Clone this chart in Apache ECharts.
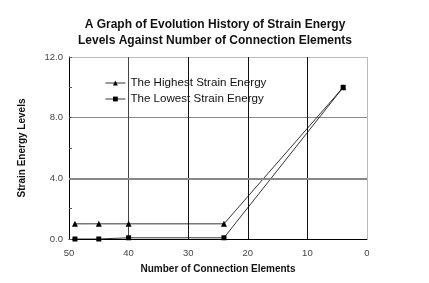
<!DOCTYPE html>
<html>
<head>
<meta charset="utf-8">
<script src="https://cdn.jsdelivr.net/npm/echarts@6/dist/echarts.min.js"></script>
<style>
    * { margin: 0; padding: 0; }
    body { background: #fff; }
</style>
</head>
<body>
<div id="chart" style="width: 429px; height: 283px;"></div>
<script>
    // data
    var elements = [49, 45, 40, 24, 4];
    var highest = [1.0, 1.0, 1.0, 1.0, 10.0];
    var lowest = [0.0, 0.0, 0.08, 0.08, 10.0];
    var seriesNames = ['The Highest Strain Energy', 'The Lowest Strain Energy'];

    function pairs(xs, ys) {
        var out = [];
        for (var i = 0; i < xs.length; i++) out.push([xs[i], ys[i]]);
        return out;
    }

    var font = '"Liberation Sans", Arial, sans-serif';

    var option = {
        backgroundColor: '#fff',
        animation: false,
        title: {
            text: 'A Graph of Evolution History of Strain Energy\nLevels Against Number of Connection Elements',
            left: 210,
            top: 12,
            textAlign: 'center',
            textStyle: {
                fontFamily: font,
                fontSize: 12,
                fontWeight: 'bold',
                color: '#111',
                lineHeight: 16
            }
        },
        legend: {
            orient: 'vertical',
            left: 105,
            top: 77,
            padding: 0,
            itemGap: 4,
            itemWidth: 20,
            itemHeight: 6,
            data: seriesNames,
            lineStyle: { width: 0.8 },
            textStyle: { fontFamily: font, fontSize: 11.6, color: '#111' }
        },
        grid: { left: 69, right: 62, top: 57, bottom: 44 },
        xAxis: {
            type: 'value',
            inverse: true,
            min: 0,
            max: 50,
            interval: 10,
            name: 'Number of Connection Elements',
            nameLocation: 'middle',
            nameGap: 25,
            nameTextStyle: { fontFamily: font, fontSize: 10, fontWeight: 'bold', color: '#111' },
            axisLine: { onZero: false, lineStyle: { color: '#000', width: 1 } },
            axisTick: { show: false },
            axisLabel: { fontFamily: font, fontSize: 9.5, color: '#444', margin: 9 },
            splitLine: {
                show: true,
                lineStyle: { color: ['#bbb', '#111', '#111', '#111', '#444', '#111'], width: 1 }
            }
        },
        yAxis: {
            type: 'value',
            min: 0,
            max: 12,
            interval: 4,
            name: 'Strain Energy Levels',
            nameLocation: 'middle',
            nameGap: 42,
            nameTextStyle: { fontFamily: font, fontSize: 10, fontWeight: 'bold', color: '#111' },
            axisLine: { show: true, onZero: false, lineStyle: { color: '#000', width: 1 } },
            axisTick: { show: true, inside: true, length: 3, lineStyle: { color: '#555' } },
            minorTick: { show: true, splitNumber: 2, length: 3, lineStyle: { color: '#555' } },
            axisLabel: {
                fontFamily: font, fontSize: 9.5, color: '#444', margin: 6,
                formatter: function (v) { return v.toFixed(1); }
            },
            splitLine: { show: true, lineStyle: { color: ['#888', '#888', '#888', '#bbb'], width: 1 } }
        },
        series: [
            {
                name: seriesNames[0],
                type: 'line',
                data: pairs(elements, highest),
                symbol: 'triangle',
                symbolSize: 6,
                itemStyle: { color: '#000' },
                lineStyle: { color: '#000', width: 0.8 },
                markLine: {
                    silent: true,
                    symbol: 'none',
                    label: { show: false },
                    lineStyle: { color: '#888', width: 2, type: 'solid' },
                    data: [{ yAxis: 4 }]
                },
                z: 3
            },
            {
                name: seriesNames[1],
                type: 'line',
                data: pairs(elements, lowest),
                symbol: 'rect',
                symbolSize: 5,
                itemStyle: { color: '#000' },
                lineStyle: { color: '#000', width: 0.8 },
                z: 3
            }
        ]
    };

    var myChart = echarts.init(document.getElementById('chart'));
    myChart.setOption(option);
</script>
</body>
</html>
